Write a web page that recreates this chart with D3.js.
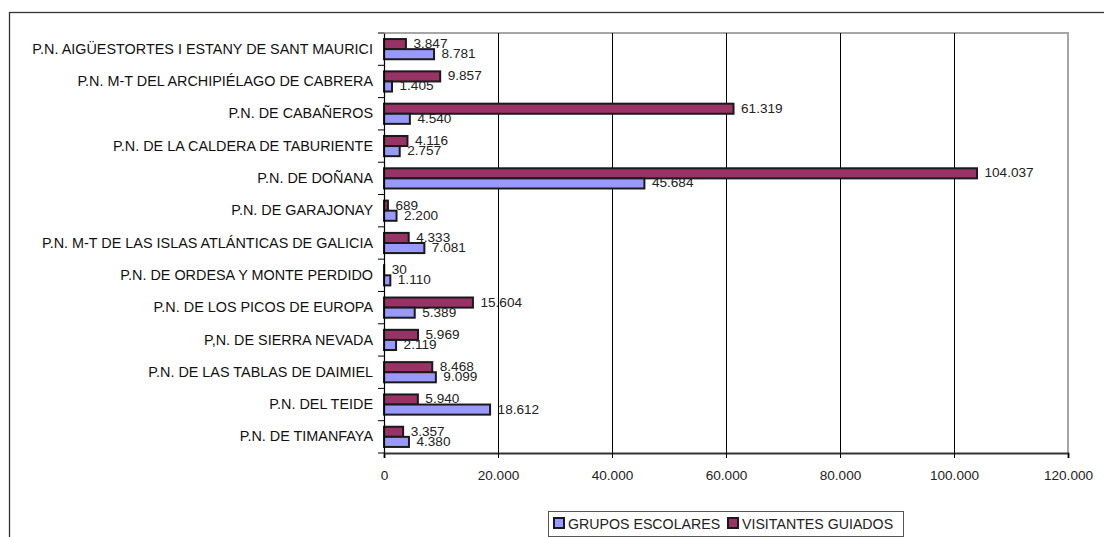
<!DOCTYPE html>
<html>
<head>
<meta charset="utf-8">
<script src="https://cdn.jsdelivr.net/npm/d3@7"></script>
<style>
  html, body { margin: 0; padding: 0; background: #fff; }
  svg { display: block; font-family: "Liberation Sans", Arial, sans-serif; }
</style>
</head>
<body>
<svg id="chart" width="1104" height="537"></svg>
<script>
// Parques nacionales: visitantes guiados y grupos escolares
const parques = [
  "P.N. AIGÜESTORTES I ESTANY DE SANT MAURICI",
  "P.N. M-T DEL ARCHIPIÉLAGO DE CABRERA",
  "P.N. DE CABAÑEROS",
  "P.N. DE LA CALDERA DE TABURIENTE",
  "P.N. DE DOÑANA",
  "P.N. DE GARAJONAY",
  "P.N. M-T DE LAS ISLAS ATLÁNTICAS DE GALICIA",
  "P.N. DE ORDESA Y MONTE PERDIDO",
  "P.N. DE LOS PICOS DE EUROPA",
  "P,N. DE SIERRA NEVADA",
  "P.N. DE LAS TABLAS DE DAIMIEL",
  "P.N. DEL TEIDE",
  "P.N. DE TIMANFAYA"
];
const visitantesGuiados = [3847, 9857, 61319, 4116, 104037, 689, 4333, 30, 15604, 5969, 8468, 5940, 3357];
const gruposEscolares   = [8781, 1405, 4540, 2757, 45684, 2200, 7081, 1110, 5389, 2119, 9099, 18612, 4380];
const xTicks = [0, 20000, 40000, 60000, 80000, 100000, 120000];
const seriesNames = ["VISITANTES GUIADOS", "GRUPOS ESCOLARES"];
const seriesColors = { "GRUPOS ESCOLARES": "#9999ff", "VISITANTES GUIADOS": "#993366" };
const legendOrder = ["GRUPOS ESCOLARES", "VISITANTES GUIADOS"];

const svg = d3.select("#chart");
const fmt = d3.formatLocale({ decimal: ",", thousands: ".", grouping: [3], currency: ["", "€"] }).format(",d");

// outer chart frame
svg.append("rect")
  .attr("x", 9.5).attr("y", 12.5).attr("width", 1200).attr("height", 600)
  .attr("fill", "none").attr("stroke", "#333").attr("stroke-width", 1.3);

const plot = { left: 384, right: 1068, top: 33, bottom: 453 };

const x = d3.scaleLinear().domain([0, 120000]).range([plot.left, plot.right]);
const y0 = d3.scaleBand().domain(parques).range([plot.top, plot.bottom]).padding(0);
const y1 = d3.scaleBand().domain(seriesNames).range([0, y0.bandwidth()]).paddingInner(0).paddingOuter(0.6);

// plot area border (top and right, grey)
svg.append("path")
  .attr("d", `M${plot.left},${plot.top}H${plot.right}V${plot.bottom}`)
  .attr("fill", "none").attr("stroke", "#a6a6a6").attr("stroke-width", 2);

// vertical gridlines
svg.append("g").selectAll("line")
  .data(xTicks.filter(t => t > 0 && t < 120000))
  .join("line")
  .attr("x1", d => Math.round(x(d)) + 0.5).attr("x2", d => Math.round(x(d)) + 0.5)
  .attr("y1", plot.top).attr("y2", plot.bottom)
  .attr("stroke", "#000").attr("stroke-width", 1);

// bars
const rows = parques.map((p, i) => ({
  parque: p,
  values: [
    { serie: "VISITANTES GUIADOS", value: visitantesGuiados[i] },
    { serie: "GRUPOS ESCOLARES", value: gruposEscolares[i] }
  ]
}));

const groups = svg.append("g").selectAll("g")
  .data(rows).join("g")
  .attr("transform", d => `translate(0,${y0(d.parque)})`);

groups.selectAll("rect")
  .data(d => d.values).join("rect")
  .attr("x", x(0))
  .attr("y", d => y1(d.serie))
  .attr("width", d => x(d.value) - x(0))
  .attr("height", y1.bandwidth())
  .attr("fill", d => seriesColors[d.serie])
  .attr("stroke", "#1a1a1a").attr("stroke-width", 2);

groups.selectAll("text")
  .data(d => d.values).join("text")
  .attr("x", d => x(d.value) + 7.5)
  .attr("y", d => y1(d.serie) + y1.bandwidth() / 2 + 4)
  .attr("font-size", 13.6)
  .attr("fill", "#222")
  .text(d => fmt(d.value));

// category axis
const yAxis = svg.append("g")
  .attr("transform", `translate(${plot.left},0)`)
  .call(d3.axisLeft(y0).tickSize(0).tickPadding(11));
yAxis.select(".domain").attr("stroke", "#000").attr("stroke-width", 1.2);
yAxis.selectAll("text").attr("font-size", 14.4).attr("fill", "#111").attr("font-family", "Liberation Sans, Arial, sans-serif");
// tick marks at category boundaries
svg.append("g").selectAll("line")
  .data(d3.range(parques.length + 1))
  .join("line")
  .attr("x1", plot.left - 6).attr("x2", plot.left)
  .attr("y1", i => plot.top + i * y0.step()).attr("y2", i => plot.top + i * y0.step())
  .attr("stroke", "#000").attr("stroke-width", 1);

// value axis
const xAxis = svg.append("g")
  .attr("transform", `translate(0,${plot.bottom})`)
  .call(d3.axisBottom(x).tickValues(xTicks).tickSize(5).tickPadding(12).tickFormat(d => fmt(d)));
xAxis.select(".domain").attr("stroke", "#333").attr("stroke-width", 2);
xAxis.selectAll(".tick line").attr("stroke", "#000");
xAxis.selectAll("text").attr("font-size", 13.6).attr("fill", "#222").attr("font-family", "Liberation Sans, Arial, sans-serif");

// legend
const legend = svg.append("g");
legend.append("rect")
  .attr("x", 548.5).attr("y", 511.5).attr("width", 355).attr("height", 25)
  .attr("fill", "#fff").attr("stroke", "#555").attr("stroke-width", 1);
const legendX = { "GRUPOS ESCOLARES": 554, "VISITANTES GUIADOS": 728 };
const items = legend.selectAll("g.item").data(legendOrder).join("g")
  .attr("class", "item")
  .attr("transform", d => `translate(${legendX[d]},518)`);
items.append("rect")
  .attr("width", 10).attr("height", 10)
  .attr("fill", d => seriesColors[d]).attr("stroke", "#1a1a1a").attr("stroke-width", 2);
items.append("text")
  .attr("x", 14).attr("y", 10.5)
  .attr("font-size", 14.2).attr("fill", "#222")
  .text(d => d);
</script>
</body>
</html>
